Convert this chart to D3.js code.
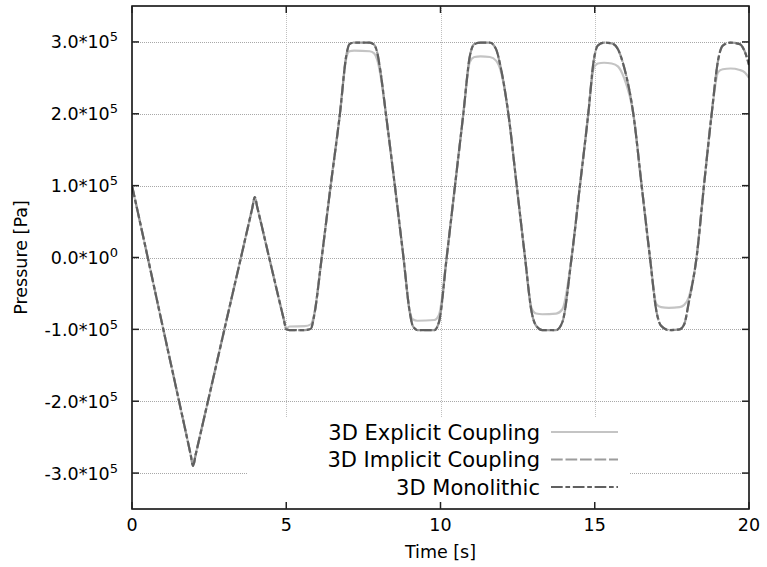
<!DOCTYPE html>
<html><head><meta charset="utf-8">
<script src="https://cdn.jsdelivr.net/npm/d3@7"></script>
<style>html,body{margin:0;padding:0;background:#fff;} text{font-family:"DejaVu Sans",sans-serif;fill:#000;}</style>
</head><body>
<svg id="chart" width="767" height="567"></svg>
<script>
// ---- data ----
const times = [0, 0.5, 1.0, 1.5, 1.9, 1.98, 2.06, 2.5, 3.0, 3.5, 3.9, 3.98, 4.06, 4.5, 4.92, 5.0, 5.1, 5.6, 5.8, 5.9, 6.15, 6.44, 6.74, 6.95, 7.05, 7.2, 7.7, 7.85, 7.95, 8.05, 8.23, 8.52, 8.8, 9.0, 9.1, 9.25, 9.8, 9.95, 10.2, 10.47, 10.74, 10.95, 11.1, 11.3, 11.6, 11.8, 11.95, 12.2, 12.47, 12.74, 12.95, 13.1, 13.3, 13.75, 13.95, 14.25, 14.52, 14.79, 14.97, 15.1, 15.3, 15.55, 15.75, 15.95, 16.25, 16.52, 16.79, 17.0, 17.15, 17.4, 17.75, 17.9, 18.05, 18.3, 18.54, 18.79, 19.0, 19.15, 19.4, 19.7, 19.85, 20];
const explicitP = [1.0e5, 0.02e5, -0.97e5, -1.95e5, -2.74e5, -2.90e5, -2.75e5, -1.93e5, -0.99e5, -0.06e5, 0.69e5, 0.84e5, 0.70e5, -0.10e5, -0.86e5, -0.99e5, -0.96e5, -0.955e5, -0.93e5, -0.80e5, 0, 1.0e5, 2.0e5, 2.78e5, 2.87e5, 2.88e5, 2.87e5, 2.84e5, 2.75e5, 2.55e5, 2.0e5, 1.0e5, 0, -0.74e5, -0.86e5, -0.88e5, -0.87e5, -0.80e5, 0, 1.0e5, 2.0e5, 2.72e5, 2.79e5, 2.80e5, 2.79e5, 2.74e5, 2.60e5, 2.0e5, 1.0e5, 0, -0.70e5, -0.78e5, -0.79e5, -0.78e5, -0.72e5, 0, 1.0e5, 2.0e5, 2.64e5, 2.70e5, 2.71e5, 2.70e5, 2.66e5, 2.50e5, 2.0e5, 1.0e5, 0, -0.65e5, -0.69e5, -0.70e5, -0.69e5, -0.66e5, -0.55e5, 0, 1.0e5, 2.0e5, 2.58e5, 2.62e5, 2.63e5, 2.61e5, 2.58e5, 2.50e5];
const implicitP = [1.0e5, 0.02e5, -0.97e5, -1.95e5, -2.74e5, -2.90e5, -2.75e5, -1.93e5, -0.99e5, -0.06e5, 0.69e5, 0.84e5, 0.70e5, -0.10e5, -0.86e5, -1.0e5, -1.01e5, -1.01e5, -0.99e5, -0.82e5, 0, 1.0e5, 2.0e5, 2.82e5, 2.97e5, 2.99e5, 2.99e5, 2.96e5, 2.85e5, 2.60e5, 2.0e5, 1.0e5, 0, -0.75e5, -0.95e5, -1.01e5, -1.01e5, -0.90e5, 0, 1.0e5, 2.0e5, 2.80e5, 2.97e5, 2.99e5, 2.99e5, 2.90e5, 2.65e5, 2.0e5, 1.0e5, 0, -0.75e5, -0.95e5, -1.01e5, -1.01e5, -0.90e5, 0, 1.0e5, 2.0e5, 2.75e5, 2.95e5, 2.99e5, 2.98e5, 2.90e5, 2.65e5, 2.0e5, 1.0e5, 0, -0.75e5, -0.95e5, -1.01e5, -1.0e5, -0.93e5, -0.62e5, 0, 1.0e5, 2.0e5, 2.75e5, 2.95e5, 2.99e5, 2.97e5, 2.88e5, 2.68e5];
const monolithicP = [1.0e5, 0.02e5, -0.97e5, -1.95e5, -2.74e5, -2.90e5, -2.75e5, -1.93e5, -0.99e5, -0.06e5, 0.69e5, 0.84e5, 0.70e5, -0.10e5, -0.86e5, -1.0e5, -1.01e5, -1.01e5, -0.99e5, -0.82e5, 0, 1.0e5, 2.0e5, 2.82e5, 2.97e5, 2.99e5, 2.99e5, 2.96e5, 2.85e5, 2.60e5, 2.0e5, 1.0e5, 0, -0.75e5, -0.95e5, -1.01e5, -1.01e5, -0.90e5, 0, 1.0e5, 2.0e5, 2.80e5, 2.97e5, 2.99e5, 2.99e5, 2.90e5, 2.65e5, 2.0e5, 1.0e5, 0, -0.75e5, -0.95e5, -1.01e5, -1.01e5, -0.90e5, 0, 1.0e5, 2.0e5, 2.75e5, 2.95e5, 2.99e5, 2.98e5, 2.90e5, 2.65e5, 2.0e5, 1.0e5, 0, -0.75e5, -0.95e5, -1.01e5, -1.0e5, -0.93e5, -0.62e5, 0, 1.0e5, 2.0e5, 2.75e5, 2.95e5, 2.99e5, 2.97e5, 2.88e5, 2.68e5];
const seriesNames = ["3D Explicit Coupling", "3D Implicit Coupling", "3D Monolithic"];
const xTicks = [0, 5, 10, 15, 20];
const xTickLabels = ["0", "5", "10", "15", "20"];
const yTicks = [-3e5, -2e5, -1e5, 0, 1e5, 2e5, 3e5];
const yTickMantissa = ["-3.0*10", "-2.0*10", "-1.0*10", "0.0*10", "1.0*10", "2.0*10", "3.0*10"];
const yTickExponent = ["5", "5", "5", "0", "5", "5", "5"];
const xLabel = "Time [s]";
const yLabel = "Pressure [Pa]";

// ---- layout ----
const L = 132, R = 749, T = 6, B = 509;
const svg = d3.select("#chart");
const x = d3.scaleLinear().domain([0, 20]).range([L, R]);
const y = d3.scaleLinear().domain([-3.5e5, 3.5e5]).range([B, T]);

const styles = [
  {color: "#c4c4c4", dash: null, w: 2.2},
  {color: "#9c9c9c", dash: "11.7,2.8", w: 2.2},
  {color: "#606060", dash: "11.7,2.7,4.7,2.7", w: 2.2}
];

// grid
const grid = svg.append("g").attr("stroke", "#a8a8a8").attr("stroke-width", 1).attr("stroke-dasharray", "1,1");
grid.selectAll("line.h").data(yTicks).join("line").attr("class", "h")
  .attr("x1", L).attr("x2", R).attr("y1", d => Math.round(y(d)) + 0.5).attr("y2", d => Math.round(y(d)) + 0.5);
grid.selectAll("line.v").data(xTicks.slice(1, -1)).join("line").attr("class", "v")
  .attr("stroke", "#c0c0c0")
  .attr("y1", T).attr("y2", B).attr("x1", d => Math.round(x(d)) + 0.5).attr("x2", d => Math.round(x(d)) + 0.5);

// legend opaque box
const legBox = {x0: 248, x1: 630, y0: 417};
svg.append("rect").attr("x", legBox.x0).attr("y", legBox.y0).attr("width", legBox.x1 - legBox.x0).attr("height", B - legBox.y0).attr("fill", "#fff");

// curves
const seriesData = [explicitP, implicitP, monolithicP];
const line = d3.line().x(d => x(d[0])).y(d => y(d[1])).curve(d3.curveMonotoneX);
svg.append("clipPath").attr("id", "clip").append("rect").attr("x", L).attr("y", T).attr("width", R - L).attr("height", B - T);
seriesData.forEach((vals, i) => {
  svg.append("path").datum(times.map((t, j) => [t, vals[j]]))
    .attr("clip-path", "url(#clip)")
    .attr("fill", "none").attr("stroke", styles[i].color).attr("stroke-width", styles[i].w)
    .attr("stroke-dasharray", styles[i].dash).attr("stroke-linejoin", "round")
    .attr("d", line);
});

// frame
svg.append("rect").attr("x", L).attr("y", T).attr("width", R - L).attr("height", B - T)
  .attr("fill", "none").attr("stroke", "#000").attr("stroke-width", 1.5);

// ticks
const tk = svg.append("g").attr("stroke", "#222").attr("stroke-width", 1.5);
yTicks.forEach(v => {
  const yy = y(v);
  tk.append("line").attr("x1", L).attr("x2", L + 7).attr("y1", yy).attr("y2", yy);
  tk.append("line").attr("x1", R).attr("x2", R - 7).attr("y1", yy).attr("y2", yy);
});
xTicks.forEach(v => {
  const xx = x(v);
  tk.append("line").attr("x1", xx).attr("x2", xx).attr("y1", B).attr("y2", B - 7);
  tk.append("line").attr("x1", xx).attr("x2", xx).attr("y1", T).attr("y2", T + 7);
});

// y tick labels
yTicks.forEach((v, i) => {
  const t = svg.append("text").attr("x", 118).attr("y", y(v) + 6.5).attr("text-anchor", "end").attr("font-size", 17.5);
  t.append("tspan").text(yTickMantissa[i]);
  t.append("tspan").attr("font-size", 13).attr("dy", -7).text(yTickExponent[i]);
});
// x tick labels
xTicks.forEach((v, i) => {
  svg.append("text").attr("x", x(v)).attr("y", 531).attr("text-anchor", "middle").attr("font-size", 17.5).text(xTickLabels[i]);
});
// axis titles
svg.append("text").attr("x", (L + R) / 2).attr("y", 558).attr("text-anchor", "middle").attr("font-size", 17.5).text(xLabel);
svg.append("text").attr("transform", "translate(27," + y(0) + ") rotate(-90)").attr("text-anchor", "middle").attr("font-size", 17.5).text(yLabel);

// legend
const rowsY = [432, 459.5, 487];
seriesNames.forEach((name, i) => {
  svg.append("text").attr("x", 540).attr("y", rowsY[i] + 7.5).attr("text-anchor", "end").attr("font-size", 21).text(name);
  svg.append("line").attr("x1", 551).attr("x2", 618).attr("y1", rowsY[i]).attr("y2", rowsY[i])
    .attr("stroke", styles[i].color).attr("stroke-width", styles[i].w).attr("stroke-dasharray", styles[i].dash);
});
</script>
</body></html>
